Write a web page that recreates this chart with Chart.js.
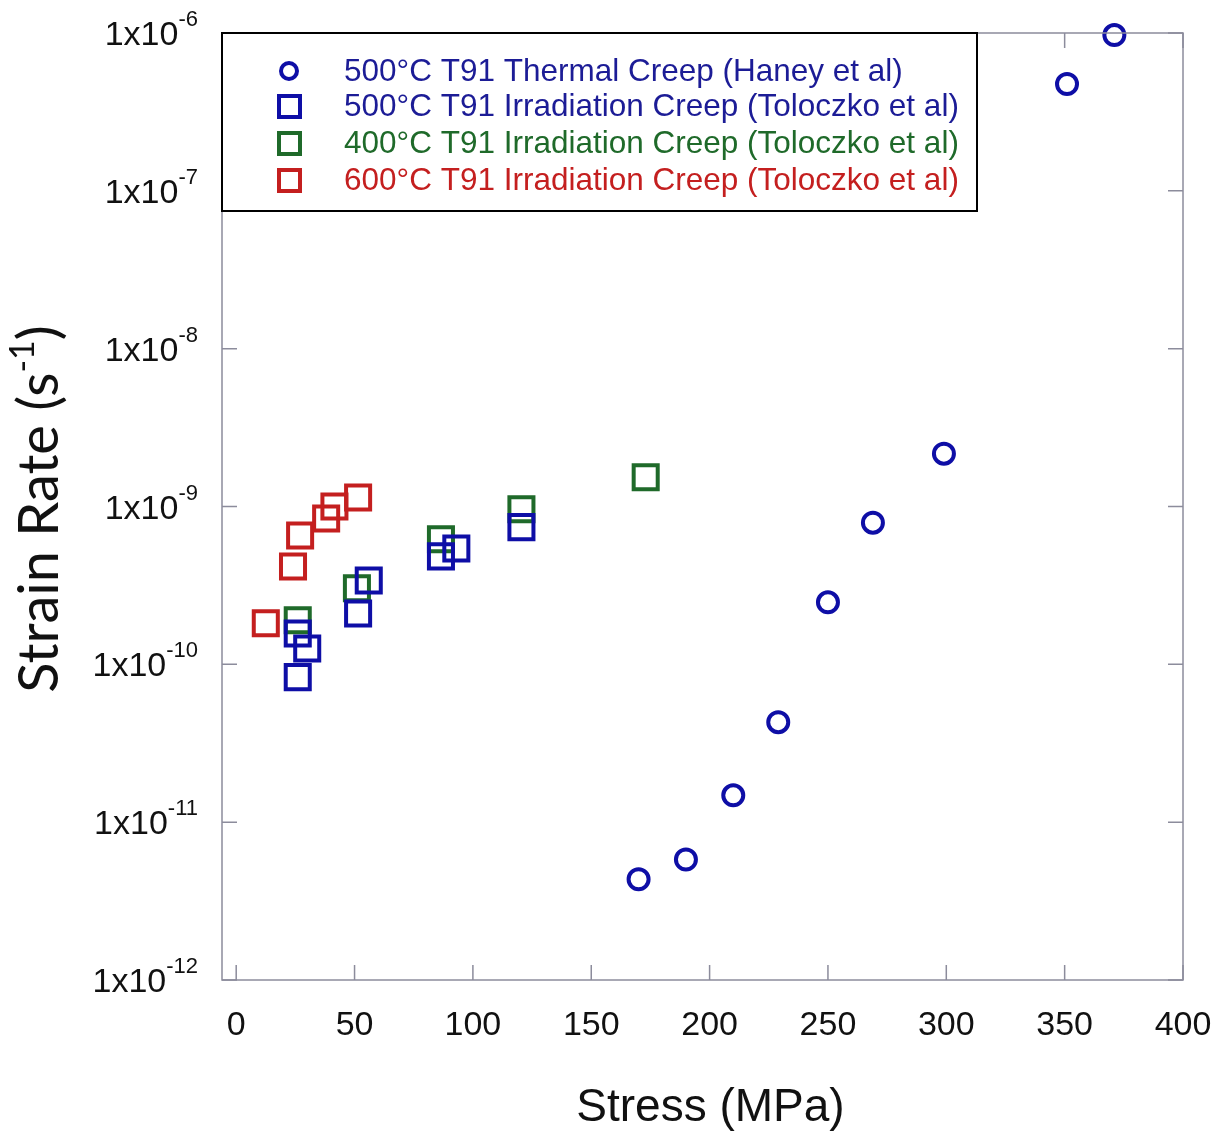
<!DOCTYPE html>
<html>
<head>
<meta charset="utf-8">
<script src="https://cdn.jsdelivr.net/npm/chart.js@4.4.1/dist/chart.umd.min.js"></script>
<style>
  html, body { margin: 0; padding: 0; background: #fff; }
  #wrap { width: 1226px; height: 1132px; }
</style>
</head>
<body>
<div id="wrap"><canvas id="creepChart" width="1226" height="1132"></canvas></div>
<script>
// thermal creep, 500°C (Haney et al)
const thermalStress = [170, 190, 210, 229, 250, 269, 299, 351, 371];
const thermalRate = [4.35e-12, 5.8e-12, 1.48e-11, 4.3e-11, 2.47e-10, 7.9e-10, 2.16e-9, 4.75e-7, 9.7e-7];

// irradiation creep, 500°C (Toloczko et al)
const irr500Stress = [26, 30, 26, 51.5, 56, 86.5, 93, 120.5];
const irr500Rate = [8.3e-11, 1.26e-10, 1.57e-10, 2.1e-10, 3.4e-10, 4.83e-10, 5.42e-10, 7.4e-10];

// irradiation creep, 400°C
const irr400Stress = [26, 51, 86.5, 120.5, 173];
const irr400Rate = [1.9e-10, 3.03e-10, 6.2e-10, 9.6e-10, 1.53e-9];

// irradiation creep, 600°C
const irr600Stress = [12.5, 24, 27, 38, 41.5, 51.5];
const irr600Rate = [1.82e-10, 4.17e-10, 6.55e-10, 8.4e-10, 1.0e-9, 1.14e-9];

const xTicks = [0, 50, 100, 150, 200, 250, 300, 350, 400];
const yExponents = [-6, -7, -8, -9, -10, -11, -12];

const seriesLabels = [
  "500°C T91 Thermal Creep (Haney et al)",
  "500°C T91 Irradiation Creep (Toloczko et al)",
  "400°C T91 Irradiation Creep (Toloczko et al)",
  "600°C T91 Irradiation Creep (Toloczko et al)",
];
const blue = "#0e0ea6";
const green = "#1f6a2a";
const red = "#c41f1f";
const textBlue = "#1c1c96";

const font = "'Liberation Sans', Arial, sans-serif";
const titleFont = "Lato, 'Open Sans', sans-serif";
const axisColor = "#8c8c9c";

function pairs(xs, ys) {
  return xs.map((x, i) => ({ x: x, y: ys[i] }));
}

function squareSet(label, xs, ys, color) {
  return {
    label: label,
    data: pairs(xs, ys),
    pointStyle: "rect",
    pointRadius: 17,
    borderWidth: 4,
    borderColor: color,
    backgroundColor: "rgba(0,0,0,0)",
    showLine: false,
    clip: false,
  };
}

const framePlugin = {
  id: "frame",
  afterDraw(chart) {
    const ctx = chart.ctx;
    const a = chart.chartArea;
    const xs = chart.scales.x;
    const ys = chart.scales.y;
    ctx.save();
    ctx.strokeStyle = axisColor;
    ctx.lineWidth = 1.5;
    ctx.strokeRect(a.left, a.top, a.right - a.left, a.bottom - a.top);

    // inward ticks on all four sides
    const tl = 15;
    ctx.beginPath();
    xTicks.forEach((v) => {
      const px = xs.getPixelForValue(v);
      ctx.moveTo(px, a.bottom); ctx.lineTo(px, a.bottom - tl);
      ctx.moveTo(px, a.top); ctx.lineTo(px, a.top + tl);
    });
    yExponents.forEach((e) => {
      const py = ys.getPixelForValue(Math.pow(10, e));
      ctx.moveTo(a.left, py); ctx.lineTo(a.left + tl, py);
      ctx.moveTo(a.right, py); ctx.lineTo(a.right - tl, py);
    });
    ctx.stroke();

    // x tick labels
    ctx.fillStyle = "#111";
    ctx.font = "34px " + font;
    ctx.textAlign = "center";
    ctx.textBaseline = "alphabetic";
    xTicks.forEach((v) => {
      ctx.fillText(String(v), xs.getPixelForValue(v), a.bottom + 55);
    });

    // y tick labels 1x10^n
    yExponents.forEach((e) => {
      const py = ys.getPixelForValue(Math.pow(10, e));
      ctx.font = "22px " + font;
      const sup = String(e);
      const supW = ctx.measureText(sup).width;
      ctx.textAlign = "right";
      ctx.fillText(sup, 198, py - 7);
      ctx.font = "34px " + font;
      ctx.fillText("1x10", 198 - supW, py + 12);
    });

    // axis titles
    ctx.font = "46px " + font;
    ctx.textAlign = "center";
    ctx.fillText("Stress (MPa)", (a.left + a.right) / 2 + 8, 1121);

    ctx.translate(58, 509);
    ctx.rotate(-Math.PI / 2);
    const main = "Strain Rate (s";
    const big = "56px " + titleFont;
    const small = "34px " + titleFont;
    ctx.font = big;
    const mw = ctx.measureText(main).width;
    ctx.font = small;
    const sw = ctx.measureText("-1").width;
    ctx.font = big;
    const cw = ctx.measureText(")").width;
    const x0 = -(mw + sw + cw) / 2;
    ctx.textAlign = "left";
    ctx.fillText(main, x0, 0);
    ctx.font = small;
    ctx.fillText("-1", x0 + mw, -24);
    ctx.font = big;
    ctx.fillText(")", x0 + mw + sw, 0);
    ctx.restore();

    // legend box
    ctx.save();
    ctx.strokeStyle = "#000";
    ctx.lineWidth = 2;
    ctx.fillStyle = "#fff";
    ctx.fillRect(a.left, a.top, 977 - a.left, 211 - a.top);
    ctx.strokeRect(a.left, a.top, 977 - a.left, 211 - a.top);
    const rowsY = [71, 106, 143, 180];
    const markColors = [blue, blue, green, red];
    const textColors = [textBlue, textBlue, green, red];
    ctx.font = "31.5px " + font;
    ctx.textAlign = "left";
    ctx.textBaseline = "middle";
    seriesLabels.forEach((lab, i) => {
      const cy = rowsY[i];
      ctx.strokeStyle = markColors[i];
      if (i === 0) {
        ctx.lineWidth = 4;
        ctx.beginPath();
        ctx.arc(289, cy, 8, 0, Math.PI * 2);
        ctx.stroke();
      } else {
        ctx.lineWidth = 4;
        ctx.strokeRect(279, cy - 10, 21, 21);
      }
      ctx.fillStyle = textColors[i];
      ctx.fillText(lab, 344, cy + 1);
    });
    ctx.restore();
  },
};

new Chart(document.getElementById("creepChart"), {
  type: "scatter",
  data: {
    datasets: [
      {
        label: seriesLabels[0],
        data: pairs(thermalStress, thermalRate),
        pointStyle: "circle",
        pointRadius: 10,
        borderWidth: 4,
        borderColor: blue,
        backgroundColor: "rgba(0,0,0,0)",
        clip: false,
      },
      squareSet(seriesLabels[1], irr500Stress, irr500Rate, blue),
      squareSet(seriesLabels[2], irr400Stress, irr400Rate, green),
      squareSet(seriesLabels[3], irr600Stress, irr600Rate, red),
    ],
  },
  options: {
    responsive: false,
    animation: false,
    layout: { padding: { left: 222, top: 33, right: 43, bottom: 152 } },
    plugins: { legend: { display: false }, tooltip: { enabled: false } },
    scales: {
      x: {
        type: "linear",
        min: -6,
        max: 400,
        ticks: { display: false },
        grid: { display: false },
        border: { display: false },
        afterFit: (s) => { s.height = 0; },
      },
      y: {
        type: "logarithmic",
        min: 1e-12,
        max: 1e-6,
        ticks: { display: false },
        grid: { display: false },
        border: { display: false },
        afterFit: (s) => { s.width = 0; },
      },
    },
  },
  plugins: [framePlugin],
});
</script>
</body>
</html>
